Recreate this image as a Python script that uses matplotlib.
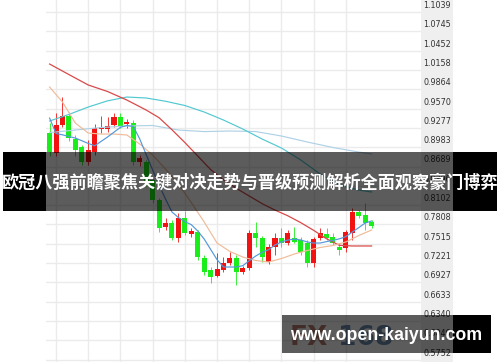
import matplotlib
matplotlib.use("Agg")
import matplotlib.pyplot as plt
from matplotlib.patches import Rectangle

# ---------------- data ----------------
opens  = [0.9198,0.8894,0.9320,0.9457,0.9107,0.8985,0.8757,0.8909,0.9259,0.9259,
          0.9320,0.9442,0.9335,0.9350,0.8757,0.8757,0.8483,0.8179,0.7769,0.7829,
          0.7601,0.7905,0.7662,0.7693,0.7297,0.7115,0.7023,0.7115,0.7221,0.7297,
          0.7084,0.7145,0.7677,0.7601,0.7236,0.7465,0.7601,0.7525,0.7601,0.7571,
          0.7525,0.7221,0.7601,0.7662,0.7617,0.7465,0.7449,0.7677,0.7997,0.7951,
          0.7845]
highs  = [0.9350,0.9503,0.9746,0.9518,0.9168,0.9016,0.9092,0.9335,0.9457,0.9442,
          0.9503,0.9503,0.9411,0.9396,0.8864,0.8788,0.8514,0.8210,0.7905,0.7875,
          0.7981,0.8012,0.7753,0.7723,0.7343,0.7160,0.7373,0.7312,0.7388,0.7343,
          0.7175,0.7723,0.7845,0.7632,0.7510,0.7677,0.7753,0.7723,0.7769,0.7617,
          0.7571,0.7617,0.7753,0.7753,0.7677,0.7525,0.7723,0.8058,0.8027,0.8134,
          0.7875]
lows   = [0.8848,0.8848,0.9290,0.9077,0.8848,0.8712,0.8712,0.8864,0.9198,0.9214,
          0.9290,0.9275,0.9275,0.8712,0.8696,0.8392,0.8134,0.7693,0.7723,0.7571,
          0.7541,0.7647,0.7617,0.7267,0.7039,0.6917,0.7008,0.7084,0.7191,0.6887,
          0.7054,0.7115,0.7465,0.7236,0.7206,0.7343,0.7465,0.7495,0.7525,0.7343,
          0.7160,0.7160,0.7571,0.7571,0.7495,0.7343,0.7388,0.7571,0.7905,0.7723,
          0.7753]
closes = [0.8909,0.9320,0.9457,0.9122,0.8940,0.8757,0.8940,0.9275,0.9290,0.9305,
          0.9442,0.9305,0.9366,0.8757,0.8818,0.8438,0.8179,0.7753,0.7829,0.7601,
          0.7905,0.7677,0.7708,0.7312,0.7084,0.7008,0.7130,0.7221,0.7297,0.7084,
          0.7145,0.7677,0.7601,0.7312,0.7465,0.7601,0.7525,0.7677,0.7541,0.7388,
          0.7221,0.7586,0.7677,0.7601,0.7525,0.7419,0.7693,0.7997,0.7936,0.7829,
          0.7784]

ma_red_x  = [0,3,6,9,12,15,17,19,21,23,25,27,29,31,33,35,37,39,41,43,45,47,50]
ma_red_y  = [1.0248,1.0088,0.9929,0.9830,0.9700,0.9548,0.9431,0.9248,0.9054,0.8849,
             0.8643,0.8485,0.8357,0.8240,0.8124,0.8026,0.7939,0.7835,0.7718,0.7590,
             0.7490,0.7480,0.7480]
ma_teal_x = [0,3,6,9,12,15,18,21,24,27,30,33,36,39,42,45,48,50]
ma_teal_y = [0.9381,0.9481,0.9594,0.9688,0.9746,0.9731,0.9682,0.9617,0.9518,0.9396,
             0.9259,0.9107,0.8970,0.8788,0.8575,0.8407,0.8331,0.8301]
ma_pale_x = [0,4,8,12,16,20,24,28,32,36,40,44,48,50]
ma_pale_y = [0.9204,0.9244,0.9282,0.9305,0.9313,0.9244,0.9220,0.9229,0.9221,0.9153,
             0.9062,0.8978,0.8909,0.8879]
ma_tan_x  = [0,2,4,6,8,10,12,14,16,18,20,22,24,26,28,30,32,34,36,38,40,42,44,46,48,50]
ma_tan_y  = [0.9898,0.9670,0.9350,0.9198,0.9183,0.9183,0.9168,0.9031,0.8864,0.8651,
             0.8423,0.8141,0.7845,0.7525,0.7396,0.7312,0.7259,0.7236,0.7289,0.7358,
             0.7411,0.7457,0.7487,0.7541,0.7639,0.7723]
ma_blue_x = [0,1,2,4,6,7,9,11,12,13,14,15,16,17,18,19,20,21,22,23,24,25,26,27,28,29,
             30,31,32,33,34,35,36,37,38,39,40,41,42,43,44,45,46,47,48,49,50]
ma_blue_y = [0.9426,0.9191,0.9171,0.9122,0.9040,0.9004,0.9138,0.9285,0.9314,0.9297,
             0.9107,0.8870,0.8636,0.8407,0.8194,0.7997,0.7913,0.7851,0.7805,0.7708,
             0.7586,0.7429,0.7272,0.7160,0.7160,0.7160,0.7180,0.7256,0.7327,0.7383,
             0.7423,0.7495,0.7541,0.7571,0.7583,0.7572,0.7541,0.7525,0.7525,0.7546,
             0.7565,0.7589,0.7622,0.7692,0.7759,0.7829,0.7860]

price_labels = ["1.1039","1.0745","1.0452","1.0158","0.9864","0.9570","0.9277","0.8983",
                "0.8689","0.8396","0.8102","0.7808","0.7515","0.7221","0.6927","0.6633",
                "0.6340","0.6046","0.5752"]
title = "欧冠八强前瞻聚焦关键对决走势与晋级预测解析全面观察豪门博弈"
watermark = "www.open-kaiyun.com"

# ---------------- figure ----------------
W, H = 500, 362
fig = plt.figure(figsize=(W/100, H/100), dpi=100)
fig.patch.set_facecolor("white")

def fx(px):
    return px / W
def fy(py):
    return 1 - py / H

# right price panel
fig.add_artist(Rectangle((fx(421), 0), fx(32), 1, transform=fig.transFigure,
                         facecolor="#efefef", edgecolor="none", zorder=0))

ax = fig.add_axes([fx(46), 0, fx(375), 1])
ax.set_facecolor("white")
ax.set_xlim(-0.559, 57.67)
ax.set_ylim(0.5715, 1.1222)
for s in ax.spines.values():
    s.set_visible(False)
ax.tick_params(left=False, bottom=False, labelleft=False, labelbottom=False)
ax.set_xticks(list(range(1, 47, 5)))
ax.set_yticks([float(v) for v in price_labels])
ax.grid(True, color="#ebebeb", linewidth=1.0, zorder=0)
ax.set_axisbelow(True)

for v in price_labels:
    ax.annotate(v, xy=(1, float(v)), xycoords=("axes fraction", "data"),
                xytext=(1.5, 4.7), textcoords="offset points", ha="left", va="center",
                fontsize=5.8, color="#333333", annotation_clip=False)

RED = "#f21212"
GREEN = "#1aee1a"
for i in range(len(opens)):
    o, h, l, c = opens[i], highs[i], lows[i], closes[i]
    col = RED if c >= o else GREEN
    ax.vlines(i, l, h, color=col, linewidth=0.7, alpha=0.85, zorder=2)
    ax.bar(i, abs(c - o), bottom=min(o, c), width=0.78, color=col, zorder=3,
           linewidth=0)

ax.plot(ma_pale_x, ma_pale_y, color="#afd1e6", lw=0.85, zorder=4)
ax.plot(ma_teal_x, ma_teal_y, color="#52c8d1", lw=0.85, zorder=4)
ax.plot(ma_red_x, ma_red_y, color="#d94a4a", lw=0.9, zorder=4)
ax.plot(ma_tan_x, ma_tan_y, color="#efbb98", lw=0.85, zorder=4)
ax.plot(ma_blue_x, ma_blue_y, color="#5498dc", lw=0.85, zorder=5)

# FX168 faint logo
fig.text(fx(290), fy(338), "FX", color="#a35a48", fontsize=19, fontweight="bold",
         ha="left", va="center", family="DejaVu Sans", alpha=0.8, zorder=6)
fig.text(fx(338), fy(338), "168", color="#4a6f9c", fontsize=19, fontweight="bold",
         ha="left", va="center", family="DejaVu Sans", alpha=0.8, zorder=6)

# title banner
by0, by1 = 152, 211
fig.add_artist(Rectangle((fx(3), fy(by1)), fx(43), (by1 - by0) / H, transform=fig.transFigure,
                         facecolor="black", edgecolor="none", zorder=10))
fig.add_artist(Rectangle((fx(46), fy(by1)), fx(407), (by1 - by0) / H, transform=fig.transFigure,
                         facecolor="black", alpha=0.64, edgecolor="none", zorder=10))
fig.add_artist(Rectangle((fx(453), fy(by1)), fx(44), (by1 - by0) / H, transform=fig.transFigure,
                         facecolor="black", edgecolor="none", zorder=10))
fig.text(fx(250), fy(183), title, color="white", fontsize=12.3, fontweight="bold",
         ha="center", va="center", family=["Noto Sans CJK SC", "DejaVu Sans"], zorder=11)

# watermark box
wy0, wy1 = 315, 353
fig.add_artist(Rectangle((fx(282), fy(wy1)), fx(171), (wy1 - wy0) / H, transform=fig.transFigure,
                         facecolor="black", alpha=0.64, edgecolor="none", zorder=10))
fig.add_artist(Rectangle((fx(453), fy(wy1)), fx(38), (wy1 - wy0) / H, transform=fig.transFigure,
                         facecolor="black", edgecolor="none", zorder=10))
fig.text(fx(386), fy(335), watermark, color="white", fontsize=12.8, fontweight="bold",
         ha="center", va="center", family=["Liberation Sans", "DejaVu Sans"], zorder=11)

fig.savefig("out.png", dpi=100)
